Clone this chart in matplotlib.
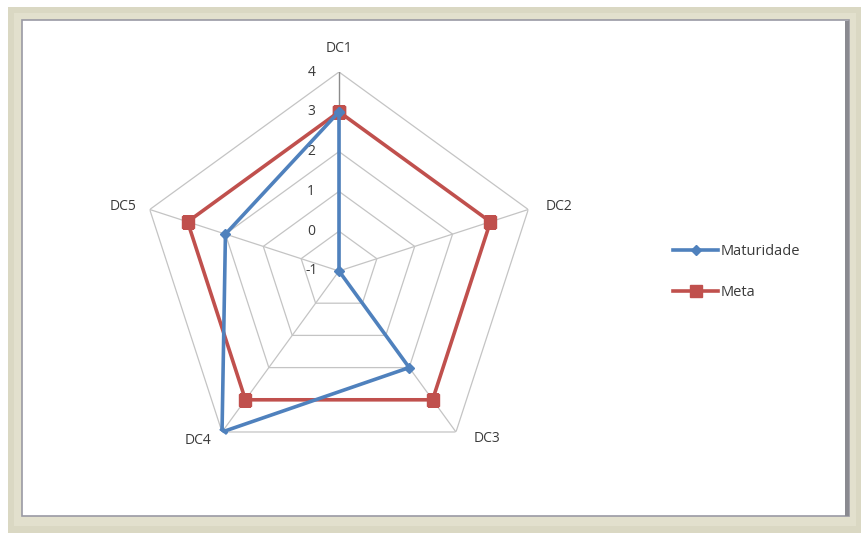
import numpy as np
import matplotlib.pyplot as plt
from matplotlib.patches import Rectangle
from matplotlib.lines import Line2D

plt.rcParams['font.family'] = ['Open Sans', 'DejaVu Sans']

# dados do gráfico radar
categorias = ['DC1', 'DC2', 'DC3', 'DC4', 'DC5']
maturidade = [3, -1, 2, 4, 2]
meta = [3, 3, 3, 3, 3]
niveis = [-1, 0, 1, 2, 3, 4]

cor_mat = '#4F81BD'
cor_meta = '#C0504D'
cor_grade = '#c4c4c4'
cor_texto = '#3a3a3a'

W, H = 862, 533
fig = plt.figure(figsize=(W / 100, H / 100), dpi=100)
fig.patch.set_facecolor('white')


def px(x0, y0, x1, y1):
    # caixa em pixels (origem no topo) -> fração da figura
    return x0 / W, 1 - y1 / H, (x1 - x0) / W, (y1 - y0) / H


# moldura com sombra
x, y, w, h = px(8, 7, 862, 533)
fig.patches.append(Rectangle((x, y), w, h, transform=fig.transFigure,
                             facecolor='#dad8c3', edgecolor='none', zorder=0))
x, y, w, h = px(14, 13, 856, 526)
fig.patches.append(Rectangle((x, y), w, h, transform=fig.transFigure,
                             facecolor='#e2e0cd', edgecolor='none', zorder=0))
x, y, w, h = px(22, 20, 849, 516)
fig.patches.append(Rectangle((x, y), w, h, transform=fig.transFigure,
                             facecolor='white', edgecolor='#9a9aa4', lw=1.2, zorder=1))
x, y, w, h = px(845, 21, 849, 516)
fig.patches.append(Rectangle((x, y), w, h, transform=fig.transFigure,
                             facecolor='#8a8a90', edgecolor='none', zorder=1))

# eixo polar centrado no radar
cx, cy, R = 339, 271, 199
ax = fig.add_axes(px(cx - R, cy - R, cx + R, cy + R), projection='polar')
ax.set_zorder(2)
ax.patch.set_alpha(0)
ax.set_theta_zero_location('N')
ax.set_theta_direction(-1)
ax.set_ylim(-1, 4)
ax.grid(False)
ax.spines['polar'].set_visible(False)
ax.set_xticks([])
ax.set_yticks([])

ang = np.deg2rad(np.arange(len(categorias)) * 360 / len(categorias))
ang_f = np.append(ang, ang[0])

# grade poligonal
for v in niveis[1:]:
    ax.plot(ang_f, [v] * len(ang_f), color=cor_grade, lw=0.9, zorder=1)
for i, a in enumerate(ang):
    ax.plot([a, a], [-1, 4], color='#8c8c8c' if i == 0 else cor_grade,
            lw=1.0 if i == 0 else 0.9, zorder=1)

# séries
ax.plot(ang_f, meta + meta[:1], color=cor_meta, lw=2.6, marker='s',
        markersize=9, zorder=3, label='Meta')
ax.plot(ang_f, maturidade + maturidade[:1], color=cor_mat, lw=2.6, marker='D',
        markersize=5.5, zorder=4, label='Maturidade')

# rótulos das categorias
desloc = [(0, 17), (22, 2), (22, -5), (-17, -6), (-19, 2)]
for a, nome, d in zip(ang, categorias, desloc):
    ax.annotate(nome, xy=(a, 4), xytext=d, textcoords='offset points',
                ha='center', va='center', fontsize=10, color=cor_texto)

# valores do eixo
for v in niveis:
    ax.annotate(str(v), xy=(0, v), xytext=(-20, 0), textcoords='offset points',
                ha='center', va='center', fontsize=10, color=cor_texto)

# legenda
h_mat = Line2D([], [], color=cor_mat, lw=2.6, marker='D', markersize=5.5)
h_meta = Line2D([], [], color=cor_meta, lw=2.6, marker='s', markersize=9)
fig.legend([h_mat, h_meta], ['Maturidade', 'Meta'], loc='center left',
           bbox_to_anchor=(660 / W, 1 - 272 / H), frameon=False, fontsize=10.5,
           handlelength=3.1, handletextpad=0.15, labelspacing=1.8,
           labelcolor=cor_texto)

plt.savefig('out.png', dpi=100, facecolor='white')
